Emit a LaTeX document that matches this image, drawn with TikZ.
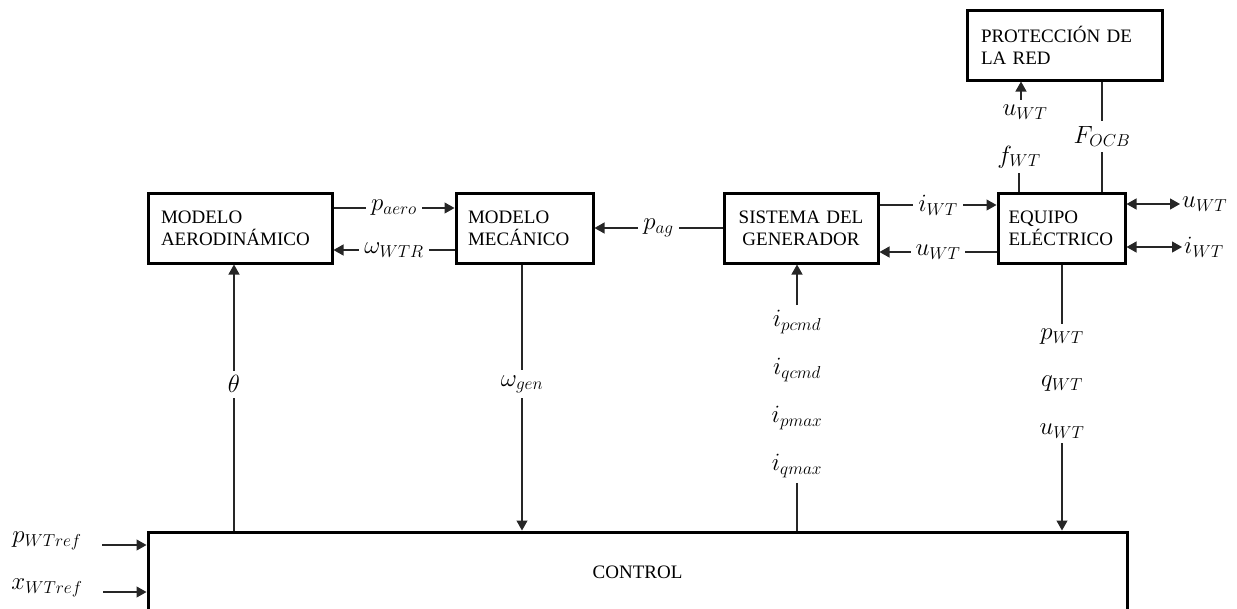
\documentclass[tikz,border=0pt]{standalone}
\usepackage{fontspec}
\setmainfont{Liberation Serif}
\usepackage{tikz}
\usetikzlibrary{positioning,arrows.meta}
\DeclareMathSizes{23}{23}{17}{12}

\tikzset{
  block/.style={draw, line width=3pt, inner sep=0pt, minimum height=70pt,
    align=left, font=\fontsize{19}{22}\selectfont},
  sig/.style={line width=1.2pt, draw=black!85},
  lbl/.style={font=\fontsize{23}{25}\selectfont, inner sep=5pt},
  gap/.style={lbl, fill=white},
}

\begin{document}
\begin{tikzpicture}[x=1pt,y=-1pt,node distance=47pt,on grid,
    >={Triangle[length=10pt,width=11pt]}]
    \useasboundingbox (0,0) rectangle (1237,608);
    % blocks
    \node[block,minimum width=184pt,text width=158pt] (aero) at (240,228) {MODELO\\AERODINÁMICO};
    \node[block,minimum width=137pt,text width=113pt] (mec)  at (524.5,228) {MODELO\\MECÁNICO};
    \node[block,minimum width=154pt,text width=140pt,align=center] (gen) at (801,228) {SISTEMA DEL\\GENERADOR};
    \node[block,minimum width=127pt,text width=106pt] (equipo) at (1061.5,228) {EQUIPO\\ELÉCTRICO};
    \node[block,minimum width=195pt,text width=167pt] (prot) at (1064.5,45) {PROTECCIÓN DE\\LA RED};
    \node[block,minimum width=979pt,minimum height=80pt,align=center] (ctrl) at (637.5,572) {CONTROL};
    % top row signals
    \draw[sig,->] ([yshift=20pt]aero.east) -- node[gap] (paero) {$p_{aero}$} ([yshift=20pt]mec.west);
    \draw[sig,->] ([yshift=-22pt]mec.west) -- node[gap] (wwtr) {$\omega_{WTR}$} ([yshift=-22pt]aero.east);
    \draw[sig,->] (gen.west) -- node[gap] (pag) {$p_{ag}$} (mec.east);
    \draw[sig,->] ([yshift=23pt]gen.east) -- node[gap] (iwt) {$i_{WT}$} ([yshift=23pt]equipo.west);
    \draw[sig,->] ([yshift=-24pt]equipo.west) -- node[gap] (uwt) {$u_{WT}$} ([yshift=-24pt]gen.east);
    % right of equipo
    \node[lbl,anchor=west,inner sep=2pt] (uwtr) at (1180,204) {$u_{WT}$};
    \node[lbl,anchor=west,inner sep=2pt] (iwtr) at (1182,247) {$i_{WT}$};
    \draw[sig,<->] ([yshift=24pt]equipo.east) -- (uwtr.west);
    \draw[sig,<->] ([yshift=-19pt]equipo.east) -- (iwtr.west);
    % protection
    \node[lbl] (fwt) at (1019,157) {$f_{WT}$};
    \draw[sig] (fwt.south) -- (fwt.south |- equipo.north);
    \draw[sig] ([xshift=40.5pt]equipo.north) -- node[gap] (focb) {$F_{OCB}$} ([xshift=40.5pt]equipo.north |- prot.south);
    \node[lbl] (uwtp) at (1025,112) {$u_{WT}$};
    \draw[sig,->] ([xshift=-4pt]uwtp.north) -- ([xshift=-4pt]uwtp.north |- prot.south);
    % control links
    \draw[sig,->] ([xshift=-6pt]aero.south |- ctrl.north) -- node[gap,pos=0.55] (theta) {$\theta$} ([xshift=-6pt]aero.south);
    \draw[sig,->] ([xshift=-2.5pt]mec.south) -- node[gap,pos=0.45] (wgen) {$\omega_{gen}$} ([xshift=-2.5pt]mec.south |- ctrl.north);
    \node[lbl] (ipcmd) at (797,322) {$i_{pcmd}$};
    \node[lbl] (iqcmd) [below=48pt of ipcmd] {$i_{qcmd}$};
    \node[lbl] (ipmax) [below=48pt of iqcmd] {$i_{pmax}$};
    \node[lbl] (iqmax) [below=48pt of ipmax] {$i_{qmax}$};
    \draw[sig,->] (ipcmd.north) -- (ipcmd.north |- gen.south);
    \draw[sig] (iqmax.south) -- (iqmax.south |- ctrl.north);
    \node[lbl] (pwt) at (1062,337) {$p_{WT}$};
    \node[lbl] (qwt) [below=of pwt] {$q_{WT}$};
    \node[lbl] (uwtc) [below=of qwt] {$u_{WT}$};
    \draw[sig] (pwt.north |- equipo.south) -- (pwt.north);
    \draw[sig,->] (uwtc.south) -- (uwtc.south |- ctrl.north);
    % references
    \node[lbl] (pref) at (47,541) {$p_{WTref}$};
    \node[lbl] (xref) at (47,588) {$x_{WTref}$};
    \coordinate (pin) at (102,545);
    \coordinate (xin) at (103,592);
    \draw[sig,->] (pin) -- (pin -| ctrl.west);
    \draw[sig,->] (xin) -- (xin -| ctrl.west);
\end{tikzpicture}
\end{document}
